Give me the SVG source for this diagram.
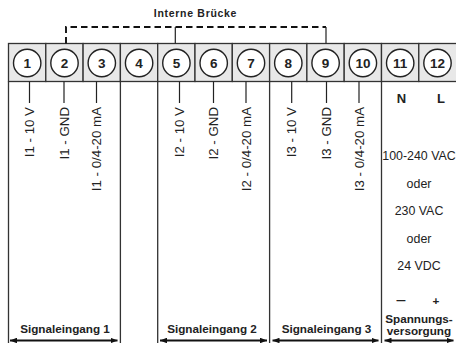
<svg xmlns="http://www.w3.org/2000/svg" width="456" height="343" viewBox="0 0 456 343">
<style>
.cell{fill:#e8e8e8;stroke:#333;stroke-width:1.3}
.circ{fill:#fff;stroke:#222;stroke-width:1.4}
.num{font-family:"Liberation Sans",Arial,sans-serif;font-weight:bold;font-size:13.5px;fill:#222;text-anchor:middle}
.vl{font-family:"Liberation Sans",Arial,sans-serif;font-size:13.3px;fill:#222;text-anchor:end}
.ln{stroke:#222;stroke-width:1.2;fill:none}
.sep{stroke:#333;stroke-width:1.3;fill:none}
.b{font-family:"Liberation Sans",Arial,sans-serif;font-weight:bold;font-size:11.7px;fill:#222;text-anchor:middle}
.r{font-family:"Liberation Sans",Arial,sans-serif;font-size:12.4px;fill:#222;text-anchor:middle}
.arr{stroke:#111;stroke-width:1.8;fill:none;marker-start:url(#ah);marker-end:url(#ah)}
</style>
<defs>
<marker id="ah" viewBox="0 0 10 8" refX="10" refY="4" markerWidth="7" markerHeight="5.6" markerUnits="userSpaceOnUse" orient="auto-start-reverse">
<path d="M0,0 L10,4 L0,8 Z" fill="#111"/>
</marker>
</defs>
<rect width="456" height="343" fill="#fff"/>
<text x="195.5" y="17" class="b" style="font-size:10.5px;letter-spacing:0.7px">Interne Brücke</text>
<g id="t1"><rect class="cell" x="8.5" y="43.5" width="37.3" height="38"/><circle class="circ" cx="27.2" cy="63" r="13.7"/><text class="num" x="27.2" y="67.8">1</text></g>
<g id="t2"><rect class="cell" x="45.8" y="43.5" width="37.3" height="38"/><circle class="circ" cx="64.5" cy="63" r="13.7"/><text class="num" x="64.5" y="67.8">2</text></g>
<g id="t3"><rect class="cell" x="83.1" y="43.5" width="37.3" height="38"/><circle class="circ" cx="101.8" cy="63" r="13.7"/><text class="num" x="101.8" y="67.8">3</text></g>
<g id="t4"><rect class="cell" x="120.4" y="43.5" width="37.3" height="38"/><circle class="circ" cx="139.1" cy="63" r="13.7"/><text class="num" x="139.1" y="67.8">4</text></g>
<g id="t5"><rect class="cell" x="157.7" y="43.5" width="37.3" height="38"/><circle class="circ" cx="176.4" cy="63" r="13.7"/><text class="num" x="176.4" y="67.8">5</text></g>
<g id="t6"><rect class="cell" x="195" y="43.5" width="37.3" height="38"/><circle class="circ" cx="213.7" cy="63" r="13.7"/><text class="num" x="213.7" y="67.8">6</text></g>
<g id="t7"><rect class="cell" x="232.3" y="43.5" width="37.3" height="38"/><circle class="circ" cx="251" cy="63" r="13.7"/><text class="num" x="251" y="67.8">7</text></g>
<g id="t8"><rect class="cell" x="269.6" y="43.5" width="37.3" height="38"/><circle class="circ" cx="288.3" cy="63" r="13.7"/><text class="num" x="288.3" y="67.8">8</text></g>
<g id="t9"><rect class="cell" x="306.9" y="43.5" width="37.3" height="38"/><circle class="circ" cx="325.6" cy="63" r="13.7"/><text class="num" x="325.6" y="67.8">9</text></g>
<g id="t10"><rect class="cell" x="344.2" y="43.5" width="37.3" height="38"/><circle class="circ" cx="362.9" cy="63" r="13.7"/><text class="num" x="362.9" y="67.8">10</text></g>
<g id="t11"><rect class="cell" x="381.5" y="43.5" width="37.3" height="38"/><circle class="circ" cx="400.2" cy="63" r="13.7"/><text class="num" x="400.2" y="67.8">11</text></g>
<g id="t12"><rect class="cell" x="418.8" y="43.5" width="38.5" height="38"/><circle class="circ" cx="437.5" cy="63" r="13.7"/><text class="num" x="437.5" y="67.8">12</text></g>
<g id="connectors">
<path d="M66,43.5 V27 H326" fill="none" stroke="#111" stroke-width="1.9" stroke-dasharray="6.5 4"/>
<path class="ln" d="M175.3,27 V43.5 M326,27 V43.5"/>
<path class="sep" d="M8.5,81.5 V343 M120.4,81.5 V343 M157.7,81.5 V343 M269.6,81.5 V343 M381.5,81.5 V343"/>
<path class="ln" d="M29.5,81.5 V103 M64,81.5 V103 M96.5,81.5 V103 M179.5,81.5 V103 M213.5,81.5 V103 M246,81.5 V103 M291.7,81.5 V103 M326.5,81.5 V103 M359,81.5 V103"/>
<path class="arr" d="M10,340.5 H117.5"/>
<path class="arr" d="M160,340.5 H267"/>
<path class="arr" d="M272.5,340.5 H378.5"/>
<path class="arr" d="M384.5,340.5 H453.5"/>
</g>
<g id="signal1">
<text class="vl" transform="translate(34.2,107) rotate(-90)">I1 - 10 V</text>
<text class="vl" transform="translate(68.8,107) rotate(-90)">I1 - GND</text>
<text class="vl" transform="translate(101.2,107) rotate(-90)">I1 - 0/4-20 mA</text>
<text class="b" x="65" y="332.5">Signaleingang 1</text>
</g>
<g id="signal2">
<text class="vl" transform="translate(184.2,107) rotate(-90)">I2 - 10 V</text>
<text class="vl" transform="translate(218.2,107) rotate(-90)">I2 - GND</text>
<text class="vl" transform="translate(250.7,107) rotate(-90)">I2 - 0/4-20 mA</text>
<text class="b" x="212" y="332.5">Signaleingang 2</text>
</g>
<g id="signal3">
<text class="vl" transform="translate(296.4,107) rotate(-90)">I3 - 10 V</text>
<text class="vl" transform="translate(331.2,107) rotate(-90)">I3 - GND</text>
<text class="vl" transform="translate(363.7,107) rotate(-90)">I3 - 0/4-20 mA</text>
<text class="b" x="326.5" y="332.5">Signaleingang 3</text>
</g>
<g id="power">
<text class="b" x="401.5" y="103" style="font-size:13px">N</text>
<text class="b" x="441" y="103" style="font-size:13px">L</text>
<text class="r" x="419" y="160">100-240 VAC</text>
<text class="r" x="419" y="187.5">oder</text>
<text class="r" x="419" y="215">230 VAC</text>
<text class="r" x="419" y="243">oder</text>
<text class="r" x="419" y="270">24 VDC</text>
<text class="r" x="401" y="305" style="font-size:16px">–</text>
<text class="b" x="436" y="305">+</text>
<text class="b" x="419" y="323">Spannungs-</text>
<text class="b" x="419" y="334.5">versorgung</text>
</g>
</svg>
